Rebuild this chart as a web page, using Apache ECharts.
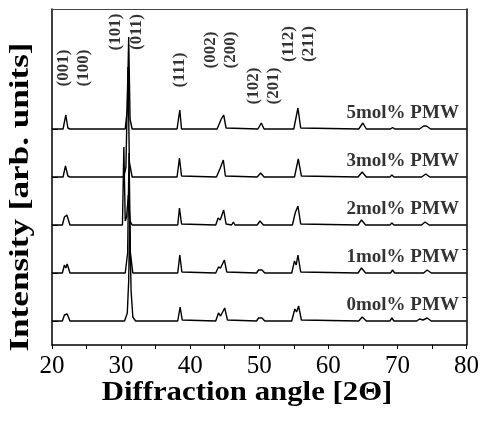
<!DOCTYPE html>
<html><head><meta charset="utf-8">
<script src="https://cdn.jsdelivr.net/npm/echarts@6/dist/echarts.min.js"></script>
<style>html,body{margin:0;padding:0;background:#fff}#c{width:482px;height:433px}</style>
</head><body><div id="c"></div>
<script>
// Sample names (bottom to top) and vertical offsets of each trace (stacking)
const sampleNames = ['0mol% PMW', '1mol% PMW', '2mol% PMW', '3mol% PMW', '5mol% PMW'];
const offsets = [24, 72, 120, 168, 216];

// XRD traces: [2theta, intensity above own baseline]
const pmw0 = [[20,0],[21.5,0],[21.8,6],[22.0,4],[22.2,7],[22.6,0],[30.5,0],[30.9,8],[31.1,40],[31.25,100],[31.45,30],[31.7,4],[32.1,0],[38.2,0],[38.55,14],[38.85,1],[43.7,0],[44.1,8],[44.4,5],[45.0,13],[45.4,1],[49.6,0],[49.9,3],[50.15,2],[50.4,3],[50.8,0],[54.7,0],[55.15,12],[55.4,9],[55.7,15],[56.1,1],[64.4,0],[64.9,4],[65.5,0],[68.9,0],[69.2,3],[69.5,0],[72.8,0],[73.2,2],[73.7,1],[74.3,3],[74.9,0],[80,0]];
const pmw1 = [[20,0],[21.5,0],[21.8,8],[22.0,5],[22.2,9],[22.6,0],[30.6,0],[30.95,20],[31.15,120],[31.35,20],[31.7,0],[38.2,0],[38.5,18],[38.8,1],[43.7,0],[44.1,6],[44.4,5],[44.95,13],[45.3,1],[49.6,0],[49.9,3],[50.15,2],[50.4,3],[50.8,0],[54.7,0],[55.1,12],[55.35,8],[55.6,18],[56.0,1],[64.3,0],[64.8,5],[65.4,0],[69.0,0],[69.3,3],[69.6,0],[73.8,0],[74.3,3],[74.9,0],[80,0]];
const pmw2 = [[20,0],[21.5,0],[21.8,8],[22.0,6],[22.15,10],[22.6,0],[30.2,0],[30.4,78],[30.6,4],[30.8,8],[31.05,30],[31.3,4],[31.6,0],[35.4,0],[35.6,2],[35.8,0],[38.2,0],[38.45,17],[38.75,1],[43.7,0],[44.05,7],[44.35,5],[44.85,15],[45.2,1],[46.0,0],[46.25,3],[46.5,0],[49.7,0],[50.1,4],[50.6,0],[54.8,0],[55.2,12],[55.4,10],[55.6,19],[56.0,1],[64.3,0],[64.8,5],[65.4,0],[68.9,0],[69.2,2],[69.5,0],[73.5,0],[74.0,3],[74.6,0],[80,0]];
const pmw3 = [[20,0],[21.6,0],[21.95,11],[22.3,1],[22.6,0],[30.4,0],[30.7,10],[31.0,110],[31.2,15],[31.6,0],[38.1,0],[38.45,19],[38.75,1],[43.8,0],[44.3,8],[44.8,17],[45.1,1],[49.7,0],[50.2,4],[50.7,0],[55.1,0],[55.65,18],[56.1,1],[64.3,0],[64.9,5],[65.5,0],[68.9,0],[69.2,2],[69.5,0],[73.5,0],[74.1,3],[74.7,0],[80,0]];
const pmw5 = [[20,0],[21.6,0],[22.0,14],[22.3,1],[22.6,0],[30.6,0],[30.9,20],[31.1,92],[31.3,10],[31.6,0],[38.1,0],[38.5,19],[38.75,0],[43.9,0],[44.5,10],[44.85,14],[45.2,1],[49.8,0],[50.3,6],[50.7,0],[55.0,0],[55.6,21],[56.0,1],[64.4,0],[65.0,6],[65.5,0],[69.0,0],[69.3,1.5],[69.6,0],[73.2,0],[73.8,3],[74.2,3],[74.8,0],[80,0]];
const traces = [pmw0, pmw1, pmw2, pmw3, pmw5];

// Miller-index annotations: label, 2theta, height on the intensity scale
const hklLabels = ['(001)','(100)','(101)','(011)','(111)','(002)','(200)','(102)','(201)','(112)','(211)'];
const hklPos    = [21.7, 24.6, 29.25, 32.3, 38.4, 43.0, 45.9, 49.2, 52.1, 54.3, 57.2];
const hklHeight = [277, 277, 313, 313, 275, 295, 295, 259, 259, 301, 301];

const xTitle = 'Diffraction angle [2\u0398]';
const yTitle = 'Intensity [arb. units]';

const serif = 'Liberation Serif';
const clear = 'rgba(0,0,0,0)';
const series = traces.map((t, i) => ({
  type: 'line', name: sampleNames[i], showSymbol: false, symbol: 'none', silent: true,
  lineStyle: { color: '#000', width: 1.4 },
  data: t.map(p => [p[0], p[1] + offsets[i]])
}));
series.push({
  type: 'scatter', symbolSize: 0, itemStyle: { color: clear }, silent: true,
  data: hklLabels.map((l, i) => ({ value: [hklPos[i], hklHeight[i]], name: l })),
  label: { show: true, position: 'inside', rotate: 90, formatter: p => p.name,
    fontFamily: serif, fontWeight: 'bold', fontSize: 17, color: '#000' }
});
series.push({
  type: 'scatter', symbolSize: 0, itemStyle: { color: clear }, silent: true,
  data: sampleNames.map((n, i) => ({ value: [78.9, offsets[i] + 16], name: n })),
  label: { show: true, position: 'left', distance: 0, formatter: p => p.name,
    fontFamily: serif, fontWeight: 'bold', fontSize: 19, color: '#000' }
});

const chart = echarts.init(document.getElementById('c'), null, { renderer: 'canvas' });
chart.setOption({
  animation: false,
  backgroundColor: '#fff',
  grid: { left: 52, right: 15, top: 9, bottom: 88 },
  xAxis: [{
    type: 'value', min: 20, max: 80, interval: 10, position: 'bottom',
    axisLine: { show: true, onZero: false, lineStyle: { color: '#000', width: 1.5 } },
    axisTick: { show: true, inside: false, length: 4, lineStyle: { color: '#000' } },
    minorTick: { show: true, splitNumber: 2, length: 4, lineStyle: { color: '#000' } },
    axisLabel: { fontFamily: serif, fontSize: 25, color: '#000', margin: 9 },
    splitLine: { show: false }
  }, {
    type: 'value', min: 20, max: 80, position: 'top',
    axisLine: { show: true, onZero: false, lineStyle: { color: '#444', width: 1 } },
    axisTick: { show: false }, axisLabel: { show: false }, splitLine: { show: false }
  }],
  yAxis: [{
    type: 'value', min: 0, max: 336, position: 'left',
    axisLine: { show: true, onZero: false, lineStyle: { color: '#000', width: 1.5 } },
    axisTick: { show: true, inside: true, length: 6, customValues: offsets, lineStyle: { color: '#000' } },
    axisLabel: { show: false }, splitLine: { show: false }
  }, {
    type: 'value', min: 0, max: 336, position: 'right',
    axisLine: { show: true, onZero: false, lineStyle: { color: '#000', width: 1.5 } },
    axisTick: { show: true, inside: true, length: 4, customValues: [48, 96], lineStyle: { color: '#000' } },
    axisLabel: { show: false }, splitLine: { show: false }
  }],
  graphic: [{
    type: 'text', x: 247, y: 393, scaleX: 1.14, silent: true,
    style: { text: xTitle, font: 'bold 27px "Liberation Serif"', fill: '#000', align: 'center', verticalAlign: 'middle' }
  }, {
    type: 'text', x: 21, y: 197, rotation: Math.PI / 2, scaleX: 1.3, silent: true,
    style: { text: yTitle, font: 'bold 27px "Liberation Serif"', fill: '#000', align: 'center', verticalAlign: 'middle' }
  }],
  series: series
});
</script></body></html>
